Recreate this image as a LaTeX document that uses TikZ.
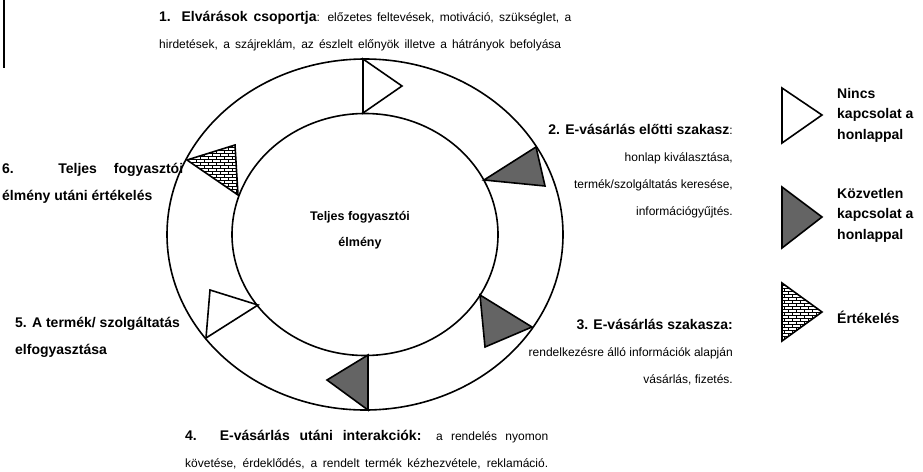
\documentclass[tikz,border=0pt]{standalone}
\usepackage{fontspec}
\setmainfont{Liberation Sans}
\usetikzlibrary{patterns}
\pgfdeclarepatternformonly{kisteglak}{\pgfpoint{-1pt}{-1pt}}{\pgfpoint{9pt}{7pt}}{\pgfpoint{8pt}{6pt}}{
  \pgfsetlinewidth{0.9pt}
  \pgfpathmoveto{\pgfpoint{0pt}{0pt}}\pgfpathlineto{\pgfpoint{8pt}{0pt}}
  \pgfpathmoveto{\pgfpoint{0pt}{3pt}}\pgfpathlineto{\pgfpoint{8pt}{3pt}}
  \pgfpathmoveto{\pgfpoint{0pt}{0pt}}\pgfpathlineto{\pgfpoint{0pt}{3pt}}
  \pgfpathmoveto{\pgfpoint{4pt}{3pt}}\pgfpathlineto{\pgfpoint{4pt}{6pt}}
  \pgfusepath{stroke}}
\definecolor{kozvD}{RGB}{100,100,100}
\newcommand{\fej}[1]{{\fontsize{14}{27}\selectfont\bfseries #1}}
\tikzset{
  ring/.style={line width=1.6pt},
  tri/.style={line width=1.6pt, line join=miter},
  nokap/.style={tri, fill=white},
  kozv/.style={tri, fill=kozvD},
  ertek/.style={tri, preaction={fill=white}, pattern=kisteglak},
  lbl/.style={font=\fontsize{12}{27}\selectfont, inner sep=0pt},
  leg/.style={font=\fontsize{14}{20.5}\selectfont\bfseries, inner sep=0pt, align=left},
}

\begin{document}
\begin{tikzpicture}[x=1pt, y=-1pt]
  \useasboundingbox (0,0) rectangle (923,471);
  % scan edge, top left
  \draw[line width=2pt] (4,0) -- (4,68);
  % ring
  \coordinate (ctr) at (365,234.5);
  \draw[ring] (ctr) ellipse (198 and 175.5);
  \draw[ring] (ctr) ellipse (133 and 121);
  \node[font=\fontsize{12.5}{26}\selectfont\bfseries, align=center] (kozep) at (360,230)
    {Teljes fogyasztói\\ élmény};
  % triangles on the ring
  \draw[nokap] (363,59) -- (363,113) -- (402,86) -- cycle;
  \draw[kozv] (536,147) -- (484,180) -- (545,186) -- cycle;
  \draw[kozv] (480,295) -- (532,327) -- (485,347) -- cycle;
  \draw[kozv] (368,355) -- (368,410) -- (327,380) -- cycle;
  \draw[nokap] (206,338) -- (258,305) -- (210,290) -- cycle;
  \draw[ertek] (187,160) -- (238,195) -- (235,145) -- cycle;
  % phases
  \node[lbl, anchor=north west, align=left] (elvaras) at (159,11)
    {\makebox[412pt][s]{\fej{1. Elvárások csoportja}: előzetes feltevések, motiváció, szükséglet, a}\\
     \makebox[402pt][s]{hirdetések, a szájreklám, az észlelt előnyök illetve a hátrányok befolyása}};
  \node[lbl, anchor=north east, align=right] (elotti) at (733,124)
    {\fej{2. E-vásárlás előtti szakasz}:\\ honlap kiválasztása,\\ termék/szolgáltatás keresése,\\ információgyűjtés.};
  \node[lbl, anchor=north east, align=right] (szakasz) at (733,319)
    {\fej{3. E-vásárlás szakasza:}\\ rendelkezésre álló információk alapján\\ vásárlás, fizetés.};
  \node[lbl, anchor=north west, align=left] (utani) at (185,430)
    {\makebox[363pt][s]{\fej{4. E-vásárlás utáni interakciók:} a rendelés nyomon}\\
     \makebox[363pt][s]{követése, érdeklődés, a rendelt termék kézhezvétele, reklamáció.}};
  \node[lbl, anchor=north west, align=left] (fogyaszt) at (15,317)
    {\fej{5. A termék/ szolgáltatás}\\ \fej{elfogyasztása}};
  \node[lbl, anchor=north west, align=left] (ertekeles) at (2,163)
    {\fej{\makebox[181pt][s]{6. Teljes fogyasztói}}\\ \fej{élmény utáni értékelés}};
  % legend
  \draw[nokap] (782,88) -- (782,143) -- (822,115) -- cycle;
  \node[leg, anchor=north west] (nincs) at (837,88) {Nincs\\ kapcsolat a\\ honlappal};
  \draw[kozv] (782,187) -- (782,248) -- (822,217) -- cycle;
  \node[leg, anchor=north west] (kozvetlen) at (837,188) {Közvetlen\\ kapcsolat a\\ honlappal};
  \draw[ertek] (782,283) -- (782,341) -- (822,312) -- cycle;
  \node[leg, anchor=west] (ertek) at (837,317) {Értékelés};
\end{tikzpicture}
\end{document}
